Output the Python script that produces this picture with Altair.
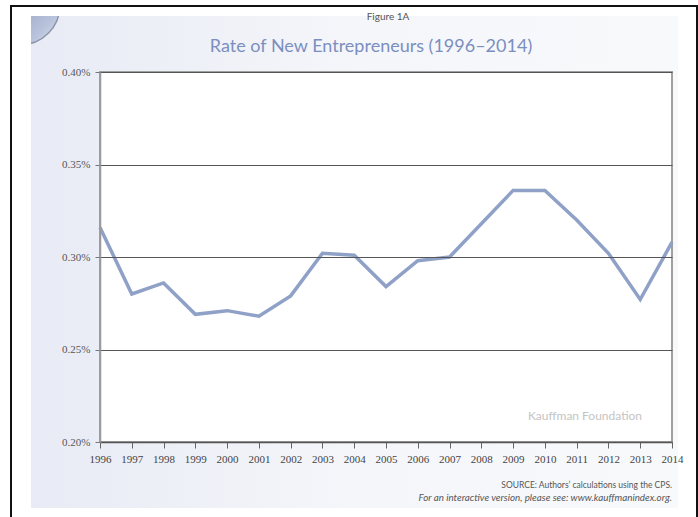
import altair as alt
import pandas as pd

# ---- data ----
years = list(range(1996, 2015))
rates = [0.316, 0.280, 0.286, 0.269, 0.271, 0.268, 0.279, 0.302, 0.301, 0.284,
         0.298, 0.300, 0.318, 0.336, 0.336, 0.320, 0.302, 0.277, 0.308]
y_ticks = [0.20, 0.25, 0.30, 0.35, 0.40]
figure_label = ["Figure 1A"]
main_title = ["Rate of New Entrepreneurs (1996\u20132014)"]
watermark = ["Kauffman Foundation"]
source_lines = ["SOURCE: Authors\u2019 calculations using the CPS."]
source_italic = ["For an interactive version, please see: www.kauffmanindex.org."]

df = pd.DataFrame({"year": years, "rate": rates})

W, H = 572, 370
PL, PT = 100, 72  # padding left/top


def one(text):
    return pd.DataFrame({"t": text})


# frame / panel decorations (positions are layout, not data)
panel = alt.Chart(one([""])).mark_rect(
    fill=alt.Gradient(gradient="linear",
                      stops=[alt.GradientStop(color="#e8ebf5", offset=0),
                             alt.GradientStop(color="#f5f6fa", offset=0.5),
                             alt.GradientStop(color="#f8f9fb", offset=1)],
                      x1=0, x2=1, y1=0, y2=0)
).encode(x=alt.value(31 - PL), x2=alt.value(678 - PL),
         y=alt.value(16 - PT), y2=alt.value(508 - PT))

swoosh = alt.Chart(one([""])).mark_arc(
    radius=40, stroke="#8e96ab", strokeWidth=1.5,
    fill=alt.Gradient(gradient="linear",
                      stops=[alt.GradientStop(color="#6878a2", offset=0),
                             alt.GradientStop(color="#b9c3dc", offset=0.8),
                             alt.GradientStop(color="#e3e8f3", offset=1)],
                      x1=0, x2=1, y1=0, y2=1)
).encode(x=alt.value(20 - PL), y=alt.value(5 - PT),
         theta=alt.value(0), theta2=alt.value(6.2832))

cover_left = alt.Chart(one([""])).mark_rect(fill="white").encode(
    x=alt.value(-PL), x2=alt.value(31 - PL), y=alt.value(-PT), y2=alt.value(517 - PT))
cover_top = alt.Chart(one([""])).mark_rect(fill="white").encode(
    x=alt.value(-PL), x2=alt.value(698 - PL), y=alt.value(-PT), y2=alt.value(16 - PT))

frame = alt.Chart(one([""])).mark_rect(fill=None, stroke="#111", strokeWidth=2).encode(
    x=alt.value(11 - PL), x2=alt.value(697 - PL), y=alt.value(6 - PT), y2=alt.value(540 - PT))

plot_bg = alt.Chart(one([""])).mark_rect(fill="white", stroke="#a0a0a0", strokeWidth=2).encode(
    x=alt.value(0), x2=alt.value(W), y=alt.value(0), y2=alt.value(H))

line = alt.Chart(df).mark_line(color="#8fa1c7", strokeWidth=3.5).encode(
    x=alt.X("year:Q",
            scale=alt.Scale(domain=[1996, 2014], nice=False, zero=False),
            axis=alt.Axis(values=years, format="d", title=None, grid=False,
                          domainColor="#555", domainWidth=1.5, tickColor="#666",
                          tickSize=6, labelPadding=5, labelFont="Liberation Serif",
                          labelFontSize=11, labelColor="#444", labelFlush=False,
                          labelOverlap=False, zindex=1)),
    y=alt.Y("rate:Q",
            scale=alt.Scale(domain=[0.20, 0.40], nice=False, zero=False),
            axis=alt.Axis(values=y_ticks, title=None, grid=True, gridColor="#555",
                          gridWidth=1, domainColor="#999", domainWidth=1.5,
                          tickColor="#777", tickSize=5, labelPadding=5,
                          labelExpr="format(datum.value, '.2f') + '%'",
                          labelFont="Liberation Serif", labelFontSize=11,
                          labelColor="#555", zindex=1)),
)

fig_lbl = alt.Chart(one(figure_label)).mark_text(
    font="Lato", fontSize=10, color="#555", align="center", baseline="middle"
).encode(text="t:N", x=alt.value(388 - PL), y=alt.value(17 - PT))

title = alt.Chart(one(main_title)).mark_text(
    font="Lato", fontSize=18, color="#7b8fbf", align="center", baseline="middle"
).encode(text="t:N", x=alt.value(371 - PL), y=alt.value(47 - PT))

wm = alt.Chart(one(watermark)).mark_text(
    font="Lato", fontSize=12, color="#c4c4c4", align="center", baseline="middle"
).encode(text="t:N", x=alt.value(585 - PL), y=alt.value(416 - PT))

src1 = alt.Chart(one(source_lines)).mark_text(
    font="Lato", fontSize=8.5, color="#555", align="right", baseline="middle"
).encode(text="t:N", x=alt.value(672 - PL), y=alt.value(485 - PT))

src2 = alt.Chart(one(source_italic)).mark_text(
    font="Lato", fontSize=9.8, fontStyle="italic", color="#555", align="right", baseline="middle"
).encode(text="t:N", x=alt.value(672 - PL), y=alt.value(498 - PT))

chart = alt.layer(
    panel, swoosh, cover_left, cover_top, frame, plot_bg, wm, line,
    fig_lbl, title, src1, src2
).properties(
    width=W, height=H,
    autosize=alt.AutoSizeParams(type="none"),
    padding={"left": PL, "top": PT, "right": 698 - PL - W, "bottom": 517 - PT - H},
    background="white",
).configure_view(stroke=None)

chart.save("out.html", embed_options={"renderer": "svg", "actions": False})
